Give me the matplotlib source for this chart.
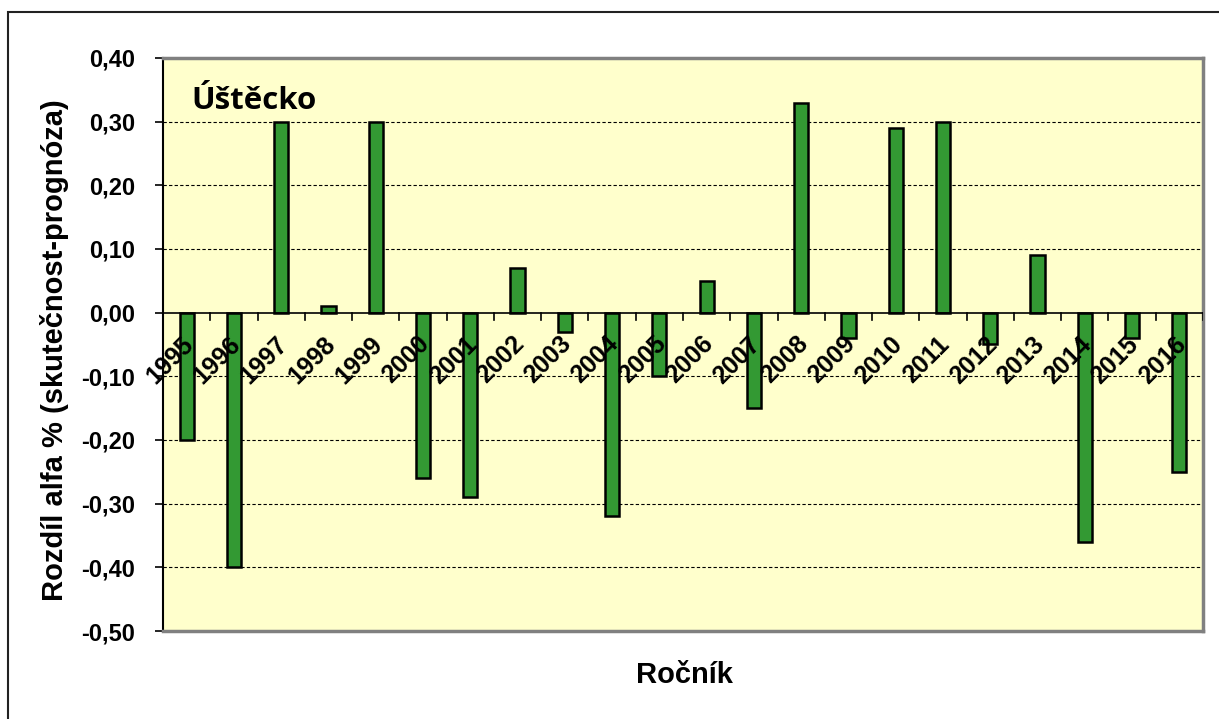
import matplotlib.pyplot as plt
import numpy as np
from matplotlib.patches import Rectangle

years = [str(y) for y in range(1995, 2017)]
diffs = [-0.20, -0.40, 0.30, 0.01, 0.30, -0.26, -0.29, 0.07, -0.03, -0.32,
         -0.10, 0.05, -0.15, 0.33, -0.04, 0.29, 0.30, -0.05, 0.09, -0.36,
         -0.04, -0.25]
y_ticks = [-0.5, -0.4, -0.3, -0.2, -0.1, 0.0, 0.1, 0.2, 0.3, 0.4]
region = "Úštěcko"

W, H = 1219, 719
fig = plt.figure(figsize=(W / 100, H / 100), dpi=100)
plt.rcParams['font.family'] = ['Liberation Sans', 'DejaVu Sans']

# outer chart frame (runs off the right/bottom of the image)
fig.patches.append(Rectangle((8 / W, -0.1), 1.2, 1 - 12 / H + 0.1,
                             transform=fig.transFigure, fill=False,
                             edgecolor="#222222", linewidth=1.5))

left, right, top, bottom = 163, 1203, 58, 631
ax = fig.add_axes([left / W, 1 - bottom / H, (right - left) / W,
                   (bottom - top) / H])
ax.set_facecolor("#FFFFCC")

x = np.arange(len(years))
ax.bar(x, diffs, width=0.3, color="#339933", edgecolor="black",
       linewidth=1.8, zorder=3)

ax.set_xlim(-0.5, len(years) - 0.5)
ax.set_ylim(-0.5, 0.4)
ax.set_yticks(y_ticks)
ax.set_yticklabels([f"{v:.2f}".replace(".", ",") for v in y_ticks],
                   fontsize=17, fontweight="bold")
ax.tick_params(axis="y", direction="out", length=6, width=1.2, pad=14)
for v in y_ticks[1:-1]:
    if v != 0.0:
        ax.axhline(v, color="black", linestyle=(0, (3, 2)), linewidth=0.8,
                   zorder=1)

# category axis sits on zero line
ax.set_xticks([])
ax.axhline(0, color="black", linewidth=1.2, zorder=4)
for b in np.arange(-0.5, len(years), 1.0)[1:]:
    ax.plot([b, b], [0, -0.012], color="black", linewidth=1.2, zorder=4)
for xi, lab in zip(x, years):
    ax.text(xi - 0.12, -0.03, lab, rotation=45, rotation_mode="anchor",
            ha="right", va="top", fontsize=18, fontweight="bold", zorder=5)

for side in ("top", "right", "bottom"):
    ax.spines[side].set_color("#808080")
    ax.spines[side].set_linewidth(2.5)
ax.spines["left"].set_color("black")
ax.spines["left"].set_linewidth(1.5)

ax.text(0.027, 0.925, region, transform=ax.transAxes, fontsize=22.5,
        fontweight="bold", family=["Open Sans", "DejaVu Sans"],
        ha="left", va="center", zorder=5)

fig.text(55 / W, 1 - 350 / H, "Rozdíl alfa % (skutečnost-prognóza)",
         rotation=90, ha="center", va="center", fontsize=21,
         fontweight="bold")
fig.text(684 / W, 1 - 675 / H, "Ročník", ha="center", va="center",
         fontsize=21, fontweight="bold")

fig.savefig("out.png", dpi=100)
